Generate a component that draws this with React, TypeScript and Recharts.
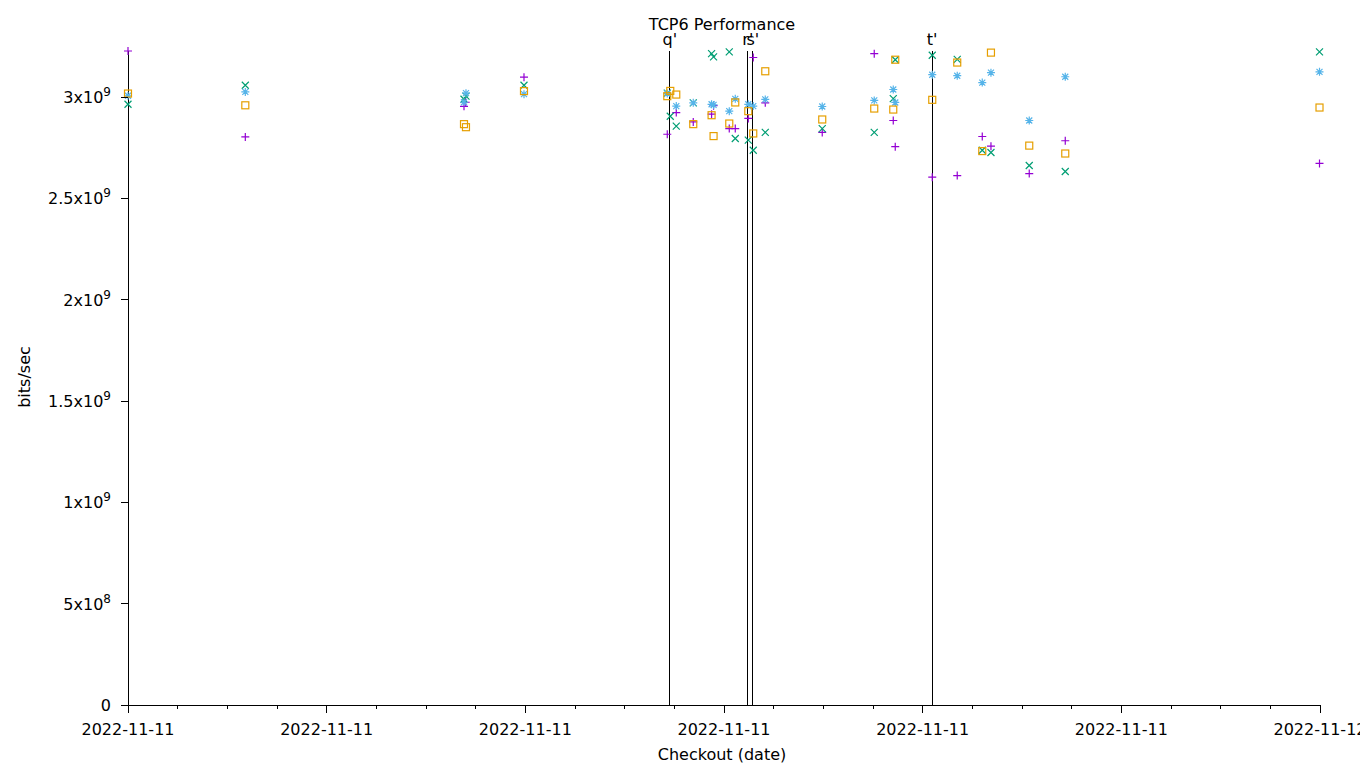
import React from "react";
import { ScatterChart, Scatter, XAxis, YAxis, ReferenceLine } from "recharts";

// hours since 2022-11-11 00:00, values in 1e9 bits/sec
const purpleHours = [0, 2.362, 6.765, 6.8, 7.973, 10.858, 11.039, 11.381, 11.75, 11.79, 12.106, 12.227, 12.489, 12.589, 12.831, 13.978, 15.025, 15.408, 15.448, 16.193, 16.696, 17.2, 17.375, 18.146, 18.871, 23.99];
const purpleValues = [3.228, 2.804, 2.955, 2.975, 3.099, 2.817, 2.924, 2.878, 2.916, 2.958, 2.845, 2.845, 2.895, 3.196, 2.972, 2.826, 3.215, 2.885, 2.756, 2.605, 2.613, 2.806, 2.758, 2.623, 2.785, 2.673];

const greenHours = [0, 2.362, 6.765, 6.805, 7.973, 10.858, 10.918, 11.039, 11.381, 11.75, 11.79, 12.106, 12.227, 12.489, 12.589, 12.831, 13.978, 15.025, 15.408, 15.448, 16.193, 16.696, 17.2, 17.375, 18.146, 18.871, 23.99];
const greenValues = [2.965, 3.059, 2.99, 3.005, 3.059, 3.02, 2.906, 2.857, 2.972, 3.215, 3.199, 3.224, 2.796, 2.788, 2.738, 2.826, 2.845, 2.826, 2.993, 3.185, 3.207, 3.187, 2.738, 2.727, 2.663, 2.633, 3.224];

const blueHours = [0, 2.362, 6.765, 6.805, 7.973, 10.858, 11.039, 11.381, 11.75, 11.79, 12.106, 12.227, 12.489, 12.589, 12.831, 13.978, 15.025, 15.408, 15.448, 16.193, 16.696, 17.2, 17.375, 18.146, 18.871, 23.99];
const blueValues = [3.007, 3.026, 2.975, 3.02, 3.015, 3.018, 2.956, 2.972, 2.965, 2.962, 2.931, 2.992, 2.965, 2.956, 2.989, 2.954, 2.984, 3.038, 2.974, 3.111, 3.106, 3.072, 3.121, 2.885, 3.101, 3.125];

const orangeHours = [0, 2.362, 6.765, 6.805, 7.973, 10.858, 10.918, 11.039, 11.381, 11.75, 11.79, 12.106, 12.227, 12.489, 12.589, 12.831, 13.978, 15.025, 15.408, 15.448, 16.193, 16.696, 17.2, 17.375, 18.146, 18.871, 23.99];
const orangeValues = [3.018, 2.96, 2.867, 2.852, 3.03, 3.005, 3.031, 3.013, 2.867, 2.911, 2.808, 2.87, 2.974, 2.931, 2.821, 3.128, 2.89, 2.944, 2.939, 3.185, 2.987, 3.171, 2.734, 3.22, 2.761, 2.722, 2.949];

const markerHours = [10.91, 12.48, 12.58, 16.19];
const markerLabels = ["q'", "r'", "s'", "t'"];

const xTicks = Array.from({ length: 25 }, (_, i) => i);
const yTicks = [0, 0.5, 1, 1.5, 2, 2.5, 3];

const FONT = "DejaVu Sans";

const zip = (xs: number[], ys: number[]) => xs.map((t, i) => ({ t, v: ys[i] }));

const plus = (color: string) => (p: any) => (
  <path d={`M${p.cx - 4},${p.cy}h8M${p.cx},${p.cy - 4}v8`} stroke={color} strokeWidth={1.2} fill="none" />
);
const cross = (color: string) => (p: any) => (
  <path d={`M${p.cx - 3.5},${p.cy - 3.5}l7,7M${p.cx - 3.5},${p.cy + 3.5}l7,-7`} stroke={color} strokeWidth={1.2} fill="none" />
);
const star = (color: string) => (p: any) => (
  <path
    d={`M${p.cx - 4},${p.cy}h8M${p.cx},${p.cy - 4}v8M${p.cx - 3},${p.cy - 3}l6,6M${p.cx - 3},${p.cy + 3}l6,-6`}
    stroke={color}
    strokeWidth={1.2}
    fill="none"
  />
);
const square = (color: string) => (p: any) => (
  <rect x={p.cx - 3.5} y={p.cy - 3.5} width={7} height={7} stroke={color} strokeWidth={1.2} fill="none" />
);

const yLabel = (v: number) => {
  if (v === 0) return { base: "0", exp: "" };
  if (v < 1) return { base: `${v * 10}x10`, exp: "8" };
  return { base: `${v}x10`, exp: "9" };
};

const BottomTick = (props: any) => {
  const { x, y, payload } = props;
  const major = payload.value % 4 === 0;
  return (
    <g>
      <line x1={x} x2={x} y1={y} y2={y + (major ? 8 : 4)} stroke="#000" shapeRendering="crispEdges" />
      {major && (
        <text x={x} y={y + 30} textAnchor="middle" fontSize={16} fontFamily={FONT} fill="#000">
          {payload.value === 24 ? "2022-11-12" : "2022-11-11"}
        </text>
      )}
    </g>
  );
};

const TopTick = (props: any) => {
  const { x, y, payload } = props;
  const major = payload.value % 4 === 0;
  return <line x1={x} x2={x} y1={y} y2={y - (major ? 7 : 4)} stroke="#000" shapeRendering="crispEdges" />;
};

const LeftTick = (props: any) => {
  const { x, y, payload } = props;
  const lab = yLabel(payload.value);
  return (
    <g>
      <line x1={x - 7} x2={x} y1={y} y2={y} stroke="#000" shapeRendering="crispEdges" />
      <text x={x - 17} y={y + 6} textAnchor="end" fontSize={16} fontFamily={FONT} fill="#000">
        {lab.base}
        {lab.exp && (
          <tspan fontSize={12} dy={-7}>
            {lab.exp}
          </tspan>
        )}
      </text>
    </g>
  );
};

const RightTick = (props: any) => {
  const { x, y } = props;
  return <line x1={x} x2={x + 7} y1={y} y2={y} stroke="#000" shapeRendering="crispEdges" />;
};

export default function App() {
  return (
    <div style={{ position: "absolute", left: 0, top: 0, width: 1360, height: 768, background: "#fff" }}>
      <ScatterChart width={1360} height={768} margin={{ top: 30, right: 0, bottom: 0, left: 0 }}>
        <XAxis
          xAxisId="bottom"
          dataKey="t"
          type="number"
          domain={[0, 24]}
          ticks={xTicks}
          interval={0}
          height={63}
          tickSize={0}
          tickMargin={0}
          tickLine={false}
          tick={<BottomTick />}
          axisLine={{ stroke: "#000", shapeRendering: "crispEdges" }}
        />
        <XAxis
          xAxisId="top"
          orientation="top"
          dataKey="t"
          type="number"
          domain={[0, 24]}
          ticks={xTicks}
          interval={0}
          height={21}
          tickSize={0}
          tickMargin={0}
          tickLine={false}
          tick={<TopTick />}
          axisLine={false}
        />
        <YAxis
          yAxisId="left"
          dataKey="v"
          type="number"
          domain={[0, 3.228]}
          ticks={yTicks}
          interval={0}
          width={128}
          tickSize={0}
          tickMargin={0}
          tickLine={false}
          tick={<LeftTick />}
          axisLine={{ stroke: "#000", shapeRendering: "crispEdges" }}
        />
        <YAxis
          yAxisId="right"
          orientation="right"
          dataKey="v"
          type="number"
          domain={[0, 3.228]}
          ticks={yTicks}
          interval={0}
          width={40}
          tickSize={0}
          tickMargin={0}
          tickLine={false}
          tick={<RightTick />}
          axisLine={false}
        />
        {markerHours.map((h, i) => (
          <ReferenceLine
            key={markerLabels[i]}
            x={h}
            xAxisId="bottom"
            yAxisId="left"
            stroke="#000"
            strokeWidth={1}
            shapeRendering="crispEdges"
            label={{ value: markerLabels[i], position: "top", offset: 6, fontSize: 16, fontFamily: FONT, fill: "#000" }}
          />
        ))}
        <Scatter xAxisId="bottom" yAxisId="left" data={zip(purpleHours, purpleValues)} shape={plus("#9400d3")} isAnimationActive={false} />
        <Scatter xAxisId="bottom" yAxisId="left" data={zip(greenHours, greenValues)} shape={cross("#009e73")} isAnimationActive={false} />
        <Scatter xAxisId="bottom" yAxisId="left" data={zip(blueHours, blueValues)} shape={star("#56b4e9")} isAnimationActive={false} />
        <Scatter xAxisId="bottom" yAxisId="left" data={zip(orangeHours, orangeValues)} shape={square("#e69f00")} isAnimationActive={false} />
      </ScatterChart>
      <svg width={1360} height={768} style={{ position: "absolute", left: 0, top: 0, pointerEvents: "none" }}>
        <text x={722} y={30} textAnchor="middle" fontSize={16} fontFamily={FONT} fill="#000">
          TCP6 Performance
        </text>
        <text x={722} y={760} textAnchor="middle" fontSize={16} fontFamily={FONT} fill="#000">
          Checkout (date)
        </text>
        <text x={30} y={377} textAnchor="middle" fontSize={16} fontFamily={FONT} fill="#000" transform="rotate(-90 30 377)">
          bits/sec
        </text>
      </svg>
    </div>
  );
}
